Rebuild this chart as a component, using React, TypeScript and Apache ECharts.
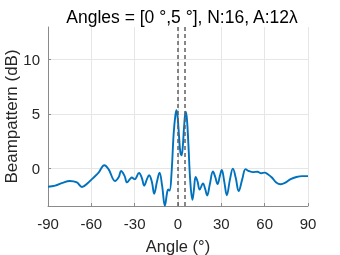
import React, { useEffect, useRef } from "react";
import * as echarts from "echarts";

const angles = [-90, -85, -80, -75, -70, -66.5, -62, -58, -55, -51, -48, -43.6, -41, -39.4, -37, -35.3, -33, -32, -30, -27, -25, -23.4, -21.5, -20, -18, -16.5, -14.5, -12.8, -11, -9.1, -7.5, -6.8, -5.8, -4.5, -3, -1.8, -1, -0.2, 0.8, 1.6, 2.4, 3.2, 4.2, 5.3, 6.2, 7.2, 8.5, 10, 11, 12.2, 13.5, 15, 17.3, 18.8, 20.2, 22, 24.2, 25.8, 27.4, 29, 30.3, 32, 33.8, 36, 38, 40, 42, 44.5, 46.8, 49, 52, 55, 57.6, 60, 62.2, 65, 68, 71, 74, 78, 82, 86, 90];
const beamDb = [-1.7, -1.6, -1.35, -1.17, -1.3, -1.72, -1.3, -0.8, -0.4, 0.28, -0.1, -1.17, -0.8, -0.25, -0.7, -1.3, -0.95, -0.85, -1.0, -0.43, -0.9, -1.6, -1.0, -0.64, -1.3, -2.35, -1.2, -0.4, -1.6, -3.45, -2.2, -1.95, -2.05, -0.5, 3.2, 4.9, 5.35, 4.6, 2.8, 1.5, 1.2, 1.8, 3.8, 5.2, 4.5, 2.2, -1.2, -2.9, -2.0, -0.8, -1.2, -1.96, -1.4, -1.9, -2.5, -1.5, -0.3, -0.8, -1.45, -0.7, -0.15, -1.2, -2.48, -1.0, -0.03, -0.9, -2.1, -1.0, -0.08, -0.25, -0.35, -0.32, -0.45, -0.4, -0.55, -0.85, -1.3, -1.47, -1.35, -1.0, -0.8, -0.72, -0.72];
const steerAngles = [0, 5];
const yTicks = [0, 5, 10];

const FONT = "Liberation Sans";

export default function App() {
  const ref = useRef<HTMLDivElement>(null);
  useEffect(() => {
    const chart = echarts.init(ref.current!, null, { renderer: "svg" });
    chart.setOption({
      animation: false,
      textStyle: { fontFamily: FONT },
      title: {
        text: "Angles = [0 \u00b0,5 \u00b0], N:16, A:12\u03bb",
        left: 177,
        textAlign: "center",
        top: 3,
        textStyle: { fontFamily: FONT, fontSize: 17.5, fontWeight: "normal", color: "#000" },
      },
      grid: { left: 48, right: 32, top: 27, bottom: 49, outerBoundsMode: "none", containLabel: false },
      xAxis: {
        type: "value",
        min: -90,
        max: 90,
        interval: 30,
        name: "Angle (\u00b0)",
        nameLocation: "middle",
        nameGap: 31,
        nameMoveOverlap: false,
        nameTextStyle: { fontFamily: FONT, fontSize: 16.5, color: "#262626" },
        axisLine: { show: true, onZero: false, lineStyle: { color: "#8a8a8a", width: 1 } },
        axisTick: { show: true, inside: true, length: 3, lineStyle: { color: "#8a8a8a" } },
        axisLabel: { fontFamily: FONT, fontSize: 15, color: "#262626", margin: 10 },
        splitLine: { show: true, lineStyle: { color: "#e6e6e6", width: 1 } },
      },
      yAxis: {
        type: "value",
        min: -3.47,
        max: 13,
        name: "Beampattern (dB)",
        nameLocation: "middle",
        nameGap: 28,
        nameMoveOverlap: false,
        nameTextStyle: { fontFamily: FONT, fontSize: 17, color: "#262626" },
        axisLine: { show: true, onZero: false, lineStyle: { color: "#8a8a8a", width: 1 } },
        axisTick: { show: true, inside: true, length: 3, customValues: yTicks, lineStyle: { color: "#8a8a8a" } },
        axisLabel: { fontFamily: FONT, fontSize: 15, color: "#262626", margin: 8, customValues: yTicks },
        splitLine: { show: true, lineStyle: { color: "#e6e6e6", width: 1 } },
      },
      series: [
        {
          type: "line",
          data: angles.map((a, i) => [a, beamDb[i]]),
          smooth: 0.4,
          showSymbol: false,
          lineStyle: { color: "#0072BD", width: 1.9 },
          markLine: {
            silent: true,
            symbol: "none",
            label: { show: false },
            lineStyle: { color: "#606060", type: [4, 3], width: 1.5 },
            data: steerAngles.map((a) => ({ xAxis: a })),
          },
          z: 3,
        },
      ],
    });
    return () => chart.dispose();
  }, []);
  return <div ref={ref} style={{ position: "fixed", left: 0, top: 0, width: 340, height: 255 }} />;
}
